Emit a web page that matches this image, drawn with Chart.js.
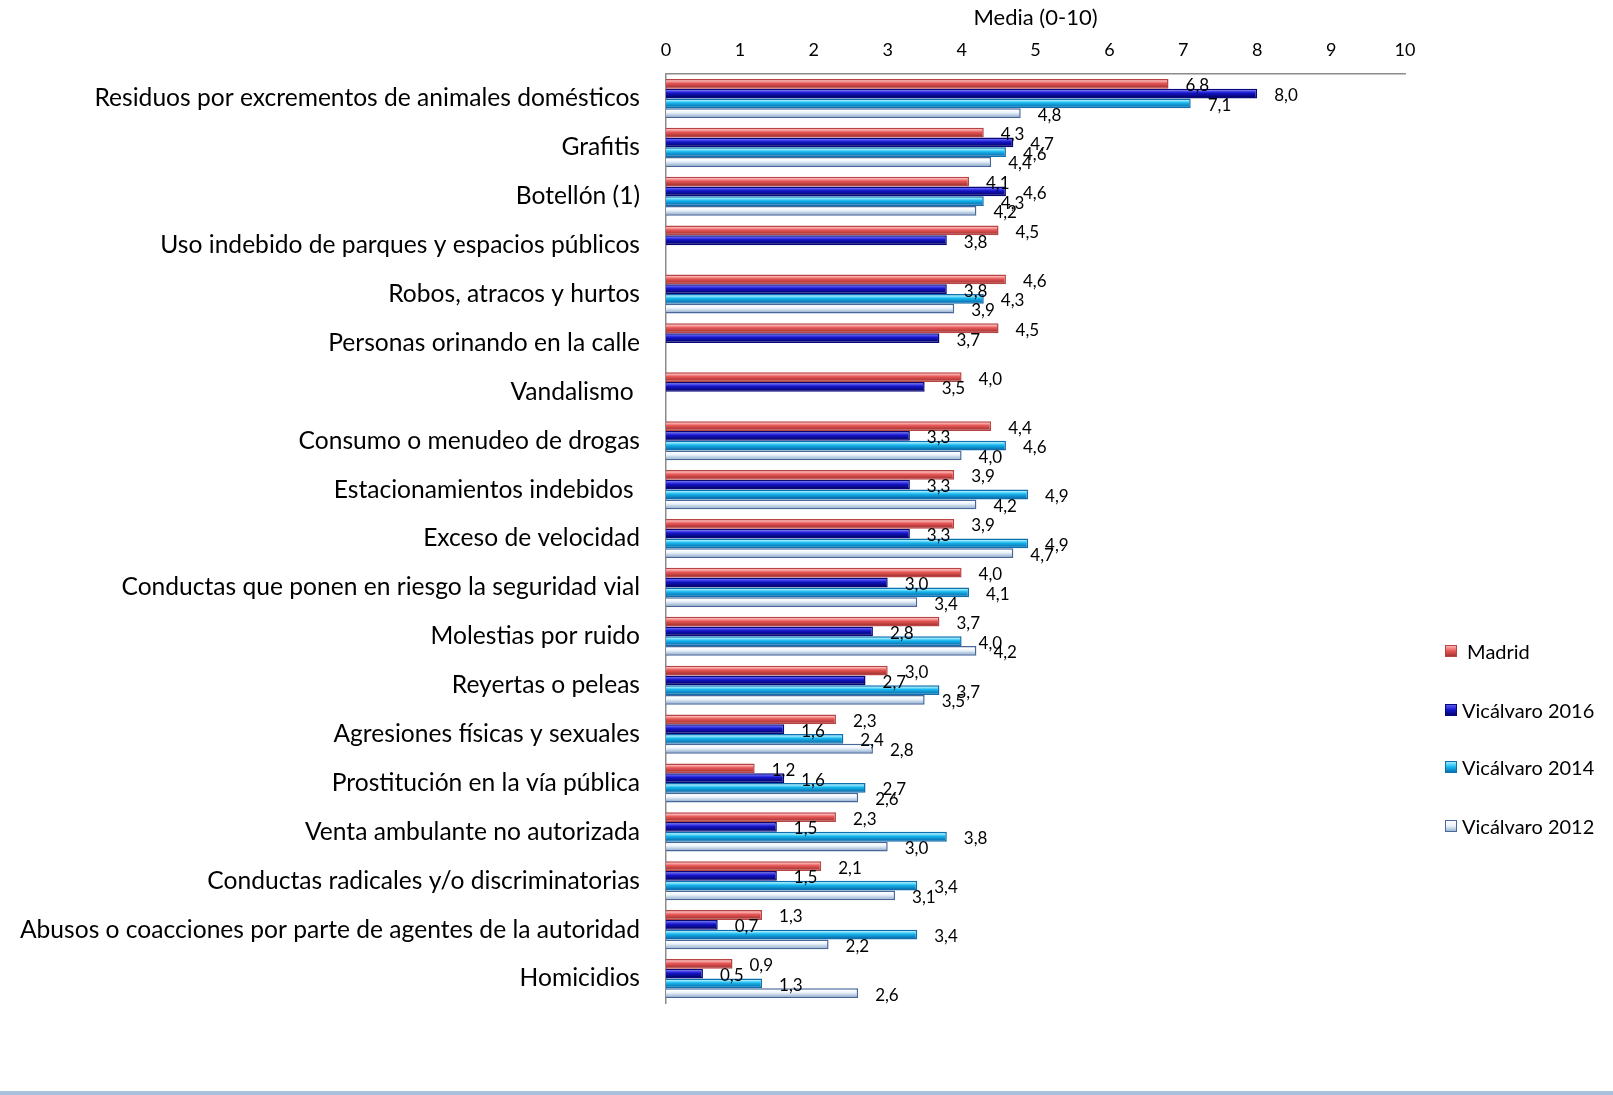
<!DOCTYPE html>
<html>
<head>
<meta charset="utf-8">
<script src="https://cdn.jsdelivr.net/npm/chart.js@4.4.1/dist/chart.umd.min.js"></script>
<style>
  html, body { margin: 0; padding: 0; background: #fff; }
  #wrap { position: relative; width: 1613px; height: 1095px; overflow: hidden; }
  #chart { position: absolute; left: 0; top: 0; }
  #legend { position: absolute; left: 1445px; top: 0; font-family: Lato, sans-serif; font-size: 20px; color: #000; }
  .item { position: absolute; left: 0; white-space: pre; display: flex; align-items: center; }
  .box { width: 12px; height: 12px; margin-right: 5px; box-sizing: border-box; }
  #bottomLine { position: absolute; left: 0; top: 1091px; width: 1613px; height: 4px; background: #a9c1dd; }
</style>
</head>
<body>
<div id="wrap">
  <canvas id="chart" width="1613" height="1095"></canvas>
  <div id="legend"></div>
  <div id="bottomLine"></div>
</div>
<script>
// Media (0-10) por tipo de problema

const categories = [
    "Residuos por excrementos de animales domésticos",
    "Grafitis",
    "Botellón (1)",
    "Uso indebido de parques y espacios públicos",
    "Robos, atracos y hurtos",
    "Personas orinando en la calle",
    "Vandalismo ",
    "Consumo o menudeo de drogas",
    "Estacionamientos indebidos ",
    "Exceso de velocidad",
    "Conductas que ponen en riesgo la seguridad vial",
    "Molestias por ruido",
    "Reyertas o peleas",
    "Agresiones físicas y sexuales",
    "Prostitución en la vía pública",
    "Venta ambulante no autorizada",
    "Conductas radicales y/o discriminatorias",
    "Abusos o coacciones por parte de agentes de la autoridad",
    "Homicidios"
];

const madrid = [6.8, 4.3, 4.1, 4.5, 4.6, 4.5, 4.0, 4.4, 3.9, 3.9, 4.0, 3.7, 3.0, 2.3, 1.2, 2.3, 2.1, 1.3, 0.9];
const vicalvaro2016 = [8.0, 4.7, 4.6, 3.8, 3.8, 3.7, 3.5, 3.3, 3.3, 3.3, 3.0, 2.8, 2.7, 1.6, 1.6, 1.5, 1.5, 0.7, 0.5];
const vicalvaro2014 = [7.1, 4.6, 4.3, null, 4.3, null, null, 4.6, 4.9, 4.9, 4.1, 4.0, 3.7, 2.4, 2.7, 3.8, 3.4, 3.4, 1.3];
const vicalvaro2012 = [4.8, 4.4, 4.2, null, 3.9, null, null, 4.0, 4.2, 4.7, 3.4, 4.2, 3.5, 2.8, 2.6, 3.0, 3.1, 2.2, 2.6];

const seriesLabels = [" Madrid", "Vicálvaro 2016", "Vicálvaro 2014", "Vicálvaro 2012"];
const axisTicks = [0, 1, 2, 3, 4, 5, 6, 7, 8, 9, 10];

// light, base, dark, border
const colors = [
    ["#fbb2b1", "#e65756", "#a83434", "#b84444"],
    ["#5a5af5", "#1414c8", "#05056e", "#08087a"],
    ["#98ecff", "#16b6ee", "#0a72b2", "#0f6fae"],
    ["#ffffff", "#eaf2fa", "#9db6d3", "#48689a"]
];

function barFill(c3) {
    return function (ctx) {
        const el = ctx.element;
        if (!el || !el.height || !isFinite(el.y)) return c3[1];
        const top = el.y - el.height / 2;
        const g = ctx.chart.ctx.createLinearGradient(0, top, 0, top + el.height);
        g.addColorStop(0, c3[1]);
        g.addColorStop(0.2, c3[0]);
        g.addColorStop(0.45, c3[1]);
        g.addColorStop(0.85, c3[2]);
        g.addColorStop(1, c3[2]);
        return g;
    };
}

const allSeries = [madrid, vicalvaro2016, vicalvaro2014, vicalvaro2012];

const datasets = allSeries.map((vals, i) => ({
    label: seriesLabels[i],
    data: vals,
    backgroundColor: barFill(colors[i]),
    borderColor: colors[i][3],
    borderWidth: 1.5,
    borderSkipped: "left",
    categoryPercentage: 0.8,
    barPercentage: 1.0
}));

const fmt = v => v.toFixed(1).replace(".", ",");

// etiquetas de valor junto al final de cada barra
const valueLabels = {
    id: "valueLabels",
    afterDatasetsDraw(chart) {
        const c = chart.ctx;
        c.save();
        c.font = "17px Lato, sans-serif";
        c.fillStyle = "#000";
        c.textAlign = "left";
        c.textBaseline = "middle";
        chart.data.datasets.forEach((ds, di) => {
            const meta = chart.getDatasetMeta(di);
            meta.data.forEach((bar, i) => {
                const v = ds.data[i];
                if (v === null || v === undefined) return;
                c.fillText(fmt(v), bar.x + 17, bar.y + 2);
            });
        });
        c.restore();
    }
};

const chart = new Chart(document.getElementById("chart"), {
    type: "bar",
    data: {
        labels: categories,
        datasets: datasets
    },
    options: {
        indexAxis: "y",
        responsive: false,
        animation: false,
        layout: { padding: { top: 0, right: 208, bottom: 92, left: 0 } },
        plugins: {
            legend: { display: false },
            tooltip: { enabled: false }
        },
        scales: {
            x: {
                position: "top",
                min: 0,
                max: 10,
                afterBuildTicks: s => { s.ticks = axisTicks.map(v => ({ value: v })); },
                afterFit: s => { s.height = 74; },
                grid: { display: false, drawTicks: false },
                border: { display: true, color: "#8c8c8c", width: 1.5 },
                ticks: {
                    padding: 13,
                    color: "#000",
                    font: { family: "Lato, sans-serif", size: 18 }
                },
                title: {
                    display: true,
                    text: "Media (0-10)",
                    color: "#000",
                    padding: { top: 5, bottom: 0 },
                    font: { family: "Lato, sans-serif", size: 22 }
                }
            },
            y: {
                afterFit: s => { s.width = 666; },
                grid: { display: false, drawTicks: false },
                border: { display: true, color: "#8c8c8c", width: 1.5 },
                ticks: {
                    padding: 26,
                    color: "#000",
                    autoSkip: false,
                    font: { family: "Lato, sans-serif", size: 24.6 }
                }
            }
        }
    },
    plugins: [valueLabels]
});

// segunda pasada para que el degradado use la posición final de cada barra
chart.update("none");

// leyenda
const legendTops = [651, 710, 767, 826];
const legend = document.getElementById("legend");
seriesLabels.forEach((lab, i) => {
    const item = document.createElement("div");
    item.className = "item";
    item.style.top = (legendTops[i] - 12) + "px";
    item.style.height = "24px";
    const box = document.createElement("span");
    box.className = "box";
    box.style.background = "linear-gradient(" + colors[i][0] + "," + colors[i][1] + " 50%," + colors[i][2] + ")";
    box.style.border = "1px solid " + colors[i][3];
    const txt = document.createElement("span");
    txt.textContent = lab;
    item.appendChild(box);
    item.appendChild(txt);
    legend.appendChild(item);
});
</script>
</body>
</html>
